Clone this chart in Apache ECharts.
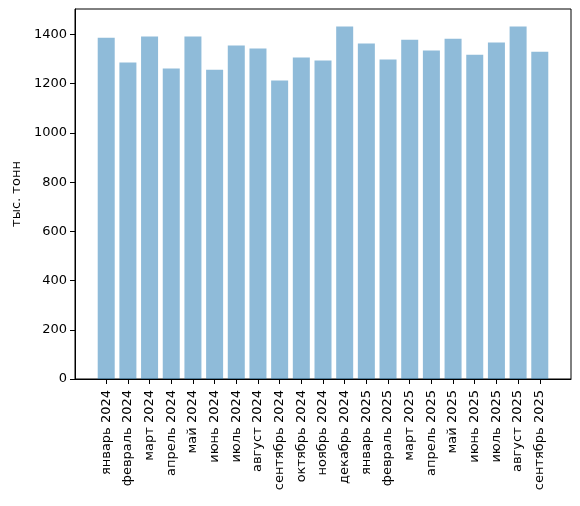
<!DOCTYPE html>
<html>
<head>
<meta charset="utf-8">
<script src="https://cdn.jsdelivr.net/npm/echarts@6/dist/echarts.min.js"></script>
<style>
  html, body { margin: 0; padding: 0; background: #fff; }
  #chart { width: 580px; height: 506px; }
</style>
</head>
<body>
<div id="chart"></div>
<script>
// месяцы и объёмы, тыс. тонн
const months = [
  'январь 2024', 'февраль 2024', 'март 2024', 'апрель 2024', 'май 2024',
  'июнь 2024', 'июль 2024', 'август 2024', 'сентябрь 2024', 'октябрь 2024',
  'ноябрь 2024', 'декабрь 2024', 'январь 2025', 'февраль 2025', 'март 2025',
  'апрель 2025', 'май 2025', 'июнь 2025', 'июль 2025', 'август 2025', 'сентябрь 2025'
];
const volumes = [
  1387, 1286, 1392, 1262, 1392, 1257, 1355, 1343, 1213, 1306,
  1294, 1432, 1363, 1298, 1379, 1335, 1383, 1318, 1367, 1432, 1330
];
const yTicks = [0, 200, 400, 600, 800, 1000, 1200, 1400];

const font = 'DejaVu Sans';
const chart = echarts.init(document.getElementById('chart'), null, { renderer: 'canvas' });

// matplotlib-подобные поля: 5% от диапазона баров
const xMin = -0.4 - 0.05 * (months.length - 1 + 0.8);
const xMax = months.length - 1 + 0.4 + 0.05 * (months.length - 1 + 0.8);
const yMax = Math.max(...volumes) * 1.05;
const idx = months.map((m, i) => i);

chart.setOption({
  animation: false,
  textStyle: { fontFamily: font },
  grid: {
    left: 75, right: 9, top: 9, bottom: 127,
    show: true, borderColor: '#000', borderWidth: 1, backgroundColor: 'transparent'
  },
  xAxis: {
    type: 'value',
    min: xMin,
    max: xMax,
    splitLine: { show: false },
    axisLine: { onZero: false, lineStyle: { color: '#000', width: 1 } },
    axisTick: { show: true, length: 5, customValues: idx, lineStyle: { color: '#000' } },
    axisLabel: {
      customValues: idx,
      rotate: 90,
      margin: 11,
      color: '#000',
      fontSize: 13,
      fontFamily: font,
      formatter: v => months[Math.round(v)]
    }
  },
  yAxis: {
    type: 'value',
    min: 0,
    max: yMax,
    name: 'тыс. тонн',
    nameLocation: 'middle',
    nameGap: 52,
    nameTextStyle: { color: '#000', fontSize: 13, fontFamily: font },
    splitLine: { show: false },
    axisLine: { show: true, onZero: false, lineStyle: { color: '#000', width: 1 } },
    axisTick: { show: true, length: 5, customValues: yTicks, lineStyle: { color: '#000' } },
    axisLabel: {
      customValues: yTicks, color: '#000', fontSize: 13, fontFamily: font, margin: 8,
      formatter: v => String(v)
    }
  },
  series: [{
    type: 'bar',
    data: volumes.map((v, i) => [i, v]),
    barWidth: 17,
    itemStyle: { color: '#1f77b4', opacity: 0.5 }
  }]
});
</script>
</body>
</html>
